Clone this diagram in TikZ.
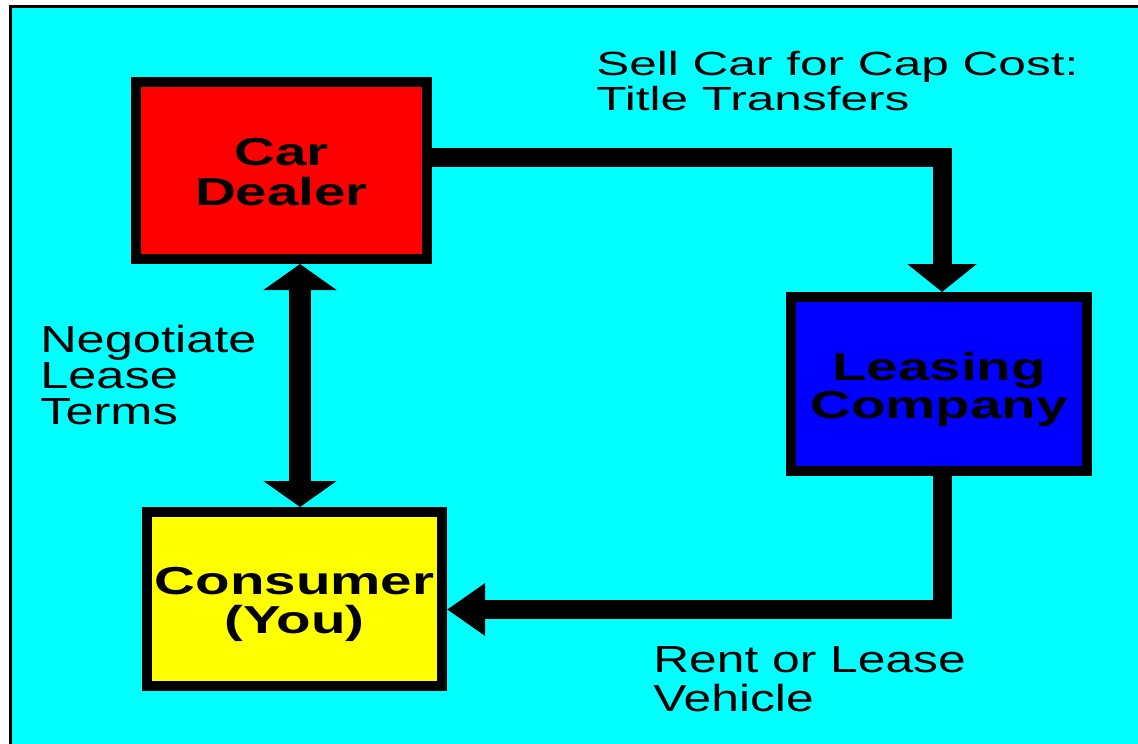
\documentclass[tikz,border=0pt]{standalone}
\usepackage{fontspec}
\setmainfont{Liberation Sans}
\usepackage{graphicx}
\usetikzlibrary{arrows.meta,calc}
\definecolor{bgcyan}{RGB}{0,255,255}
\definecolor{dealerred}{RGB}{255,0,0}
\definecolor{leaseblue}{RGB}{0,0,255}
\definecolor{consyellow}{RGB}{255,255,0}
\newcommand{\widelabel}[1]{\raisebox{-7pt}[\height][\depth]{\scalebox{1.45}[1]{\fontsize{39}{38}\selectfont\bfseries\begin{tabular}{@{}c@{}}#1\end{tabular}}}}
\begin{document}
\begin{tikzpicture}[x=1pt,y=-1pt,
  entity/.style={draw=black,line width=10pt,inner sep=0pt,align=center},
  flow/.style={line width=19pt,line join=miter},
  lbl/.style={inner sep=0pt,anchor=north west,align=left,font=\fontsize{37.7}{36}\selectfont}
]
\useasboundingbox (0,0) rectangle (1138,744);
\fill[white] (0,0) rectangle (1138,744);
\fill[black] (9,5) rectangle (1138,744);
\fill[bgcyan] (12,8) rectangle (1138,744);

\node[entity,fill=dealerred,minimum width=291pt,minimum height=177pt] (dealer) at (281.5,170.5) {\widelabel{Car\\Dealer}};
\node[entity,fill=leaseblue,minimum width=296pt,minimum height=174pt] (leasing) at (939,384) {\widelabel{Leasing\\Company}};
\node[entity,fill=consyellow,minimum width=295pt,minimum height=174pt] (consumer) at (294.5,599) {\widelabel{Consumer\\(You)}};

\draw[flow,-{Triangle[width=68pt,length=28pt]}] ([yshift=13pt]dealer.east) -| ([xshift=3pt]leasing.north);
\draw[flow,-{Triangle[width=50pt,length=38pt]}] ([xshift=3pt]leasing.south) |- ([yshift=-10.5pt]consumer.east);
\coordinate (dv) at ([xshift=18.5pt]dealer.south);
\draw[line width=22pt,{Triangle[width=72pt,length=26pt]}-{Triangle[width=72pt,length=26pt]}] (dv) -- (dv |- consumer.north);

\node[lbl,xscale=1.48,font=\fontsize{33.5}{35}\selectfont] (sell) at (596,51) {Sell Car for Cap Cost:\\Title Transfers};
\node[lbl,xscale=1.34] (nego) at (40,325) {Negotiate\\Lease\\Terms};
\node[lbl,xscale=1.32,font=\fontsize{37.7}{39}\selectfont] (rent) at (653,646) {Rent or Lease\\Vehicle};
\end{tikzpicture}
\end{document}
